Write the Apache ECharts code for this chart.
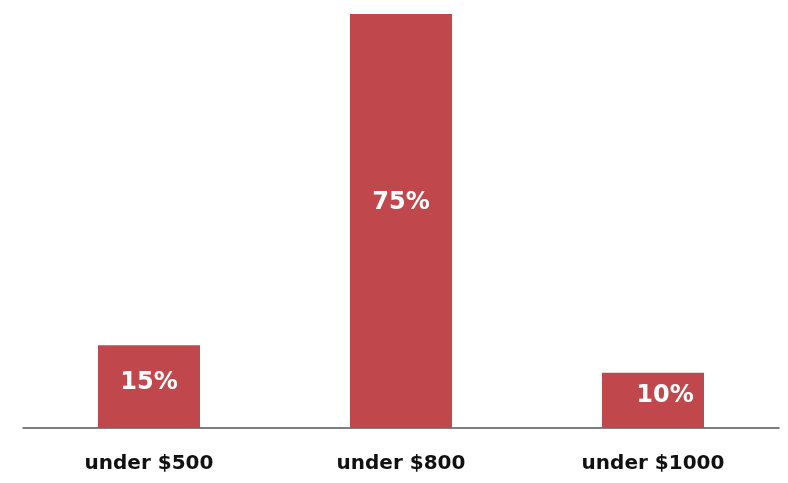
<!DOCTYPE html>
<html>
<head>
<meta charset="utf-8">
<script src="https://cdn.jsdelivr.net/npm/echarts@6/dist/echarts.min.js"></script>
<style>
  html, body { margin: 0; padding: 0; background: #fff; }
  #chart { width: 788px; height: 483px; }
</style>
</head>
<body>
<div id="chart"></div>
<script>
const categories = ['under $500', 'under $800', 'under $1000']
const shares = [15, 75, 10]

// label nudges so the percentages sit where they do in the original
const labelOffsets = [[0, -4], [0, -18], [12, -5]]

const chart = echarts.init(document.getElementById('chart'))

chart.setOption({
  animation: false,
  grid: { left: 23, right: 9, top: 14, bottom: 55 },
  xAxis: {
    type: 'category',
    data: categories,
    axisLine: { lineStyle: { color: '#555', width: 1.5 } },
    axisTick: { show: false },
    axisLabel: {
      color: '#111',
      fontFamily: 'DejaVu Sans, sans-serif',
      fontWeight: 'bold',
      fontSize: 20,
      margin: 26
    }
  },
  yAxis: {
    type: 'value',
    min: 0,
    max: 75,
    show: false
  },
  series: [
    {
      type: 'bar',
      barWidth: 102,
      data: shares.map((v, i) => ({
        value: v,
        label: { offset: labelOffsets[i] }
      })),
      itemStyle: { color: '#C0474B' },
      label: {
        show: true,
        position: 'inside',
        formatter: '{c}%',
        color: '#fff',
        fontFamily: 'DejaVu Sans, sans-serif',
        fontWeight: 'bold',
        fontSize: 24
      }
    }
  ]
})

window.addEventListener('resize', () => chart.resize())
</script>
</body>
</html>
